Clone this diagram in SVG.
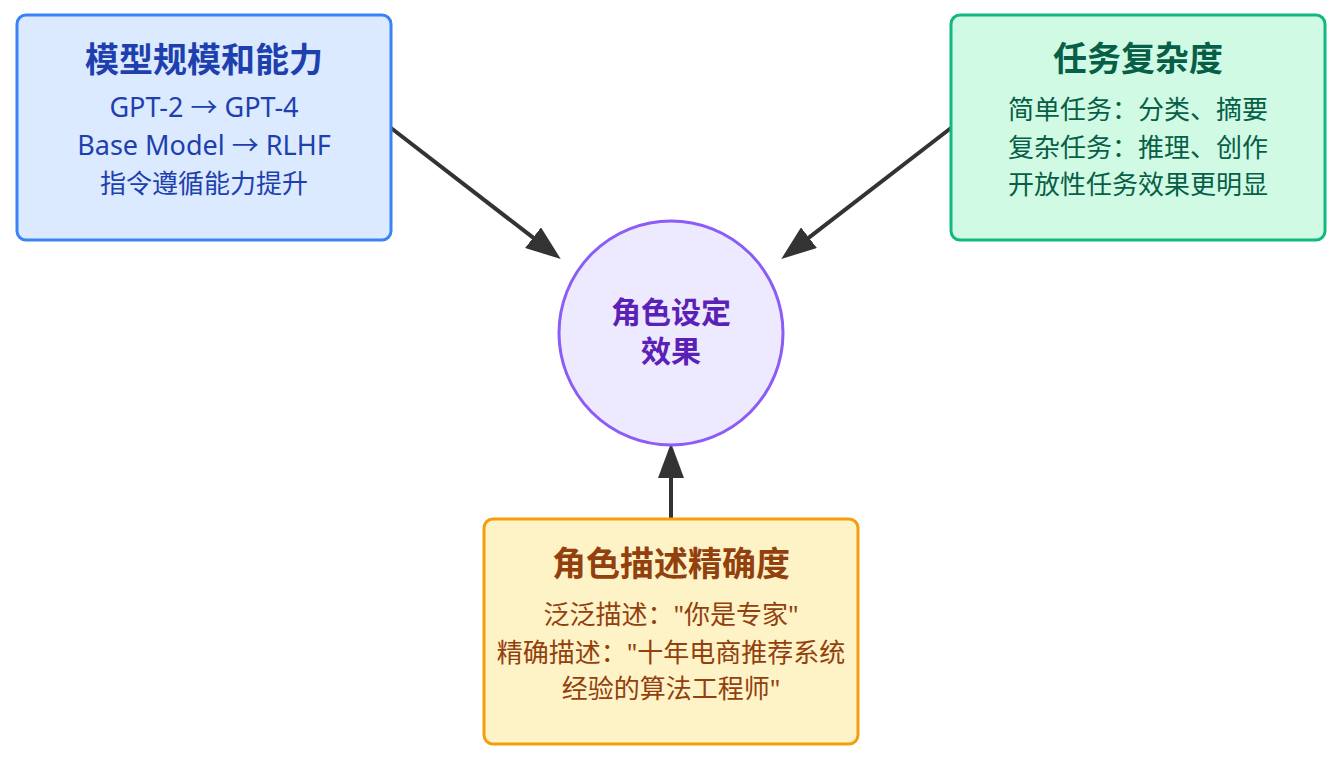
<svg xmlns="http://www.w3.org/2000/svg" width="1338" height="764" viewBox="0 0 1338 764">
  <style>
    text { font-family: "Noto Sans", "Noto Sans CJK SC", sans-serif; text-anchor: middle; }
    .title { font-size: 34px; font-weight: bold; }
    .body { font-size: 26px; }
    .latin { font-size: 27px; }
    .ctitle { font-size: 30px; font-weight: bold; fill: #5b21b6; }
    .box { stroke-width: 3; }
    .conn { stroke: #333333; stroke-width: 4; fill: none; marker-end: url(#arrow); }
  </style>
  <defs>
    <marker id="arrow" markerUnits="userSpaceOnUse" markerWidth="35" markerHeight="26" viewBox="0 0 35 26" refX="5" refY="13" orient="auto">
      <path d="M0,0 L35,13 L0,26 z" fill="#333333"/>
    </marker>
  </defs>
  <rect width="1338" height="764" fill="#ffffff"/>

  <g id="connectors">
    <line class="conn" x1="391" y1="128" x2="537" y2="240.7"/>
    <line class="conn" x1="951" y1="128" x2="805" y2="240.7"/>
    <line class="conn" x1="671" y1="519" x2="671" y2="473"/>
  </g>

  <g id="node-model">
    <rect class="box" x="17" y="15" width="374" height="225" rx="9" fill="#dbeafe" stroke="#3b82f6"/>
    <text class="title" x="204" y="72" fill="#1e40af">模型规模和能力</text>
    <text class="body latin" x="204" y="117" fill="#1e40af">GPT-2 → GPT-4</text>
    <text class="body latin" x="204" y="155" fill="#1e40af">Base Model → RLHF</text>
    <text class="body" x="204" y="193" fill="#1e40af">指令遵循能力提升</text>
  </g>

  <g id="node-task">
    <rect class="box" x="951" y="15" width="374" height="225" rx="9" fill="#d1fae5" stroke="#10b981"/>
    <text class="title" x="1138" y="71" fill="#065f46">任务复杂度</text>
    <text class="body" x="1138" y="119" fill="#065f46">简单任务：分类、摘要</text>
    <text class="body" x="1138" y="157" fill="#065f46">复杂任务：推理、创作</text>
    <text class="body" x="1138" y="194" fill="#065f46">开放性任务效果更明显</text>
  </g>

  <g id="node-role">
    <rect class="box" x="484" y="519" width="374" height="225" rx="9" fill="#fef3c7" stroke="#f59e0b"/>
    <text class="title" x="671" y="576" fill="#92400e">角色描述精确度</text>
    <text class="body" x="671" y="624" fill="#92400e">泛泛描述："你是专家"</text>
    <text class="body" x="671" y="662" fill="#92400e">精确描述："十年电商推荐系统</text>
    <text class="body" x="671" y="698" fill="#92400e">经验的算法工程师"</text>
  </g>

  <g id="node-effect">
    <circle cx="671" cy="333" r="112" fill="#ede9fe" stroke="#8b5cf6" stroke-width="3"/>
    <text class="ctitle" x="671" y="323">角色设定</text>
    <text class="ctitle" x="671" y="362">效果</text>
  </g>
</svg>
